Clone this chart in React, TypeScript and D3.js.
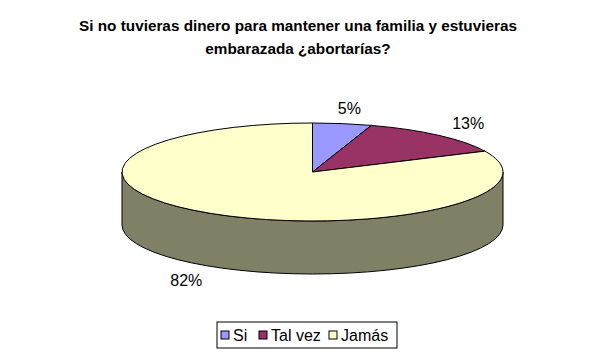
import React from "react";
import * as d3 from "d3";

const categories = ["Si", "Tal vez", "Jamás"];
const values = [5, 13, 82];
const colors = ["#9999FF", "#993366", "#FFFFCC"];
const sideColors = ["#4C4C80", "#4C1933", "#808066"];
const titleLines = ["Si no tuvieras dinero para mantener una familia y estuvieras", "embarazada ¿abortarías?"];

const W = 600, H = 358;
const cx = 312.5, cy = 172, rx = 190.5, ry = 49, depth = 53;
const FONT = "Arial, 'Liberation Sans', sans-serif";

export default function App() {
  const pie = d3.pie<number>().sort(null).value((d) => d)(values);
  const toT = d3.scaleLinear().domain([0, 2 * Math.PI]).range([0, 2 * Math.PI]);
  const pt = (t: number, dy = 0) => [cx + rx * Math.sin(t), cy - ry * Math.cos(t) + dy];

  const sides: JSX.Element[] = [];
  const tops: JSX.Element[] = [];
  const labels: JSX.Element[] = [];

  pie.forEach((s, i) => {
    const t0 = toT(s.startAngle), t1 = toT(s.endAngle);
    const a0 = Math.max(t0, Math.PI / 2), a1 = Math.min(t1, (3 * Math.PI) / 2);
    if (a1 > a0) {
      const [x0, y0] = pt(a0), [x1, y1] = pt(a1);
      const [x1b, y1b] = pt(a1, depth), [x0b, y0b] = pt(a0, depth);
      const large = a1 - a0 > Math.PI ? 1 : 0;
      const d = `M${x0},${y0} A${rx},${ry} 0 ${large} 1 ${x1},${y1} L${x1b},${y1b} A${rx},${ry} 0 ${large} 0 ${x0b},${y0b} Z`;
      sides.push(<path key={"s" + i} d={d} fill={sideColors[i]} stroke="#000" strokeWidth={1} />);
    }
    const [sx, sy] = pt(t0), [ex, ey] = pt(t1);
    const large = t1 - t0 > Math.PI ? 1 : 0;
    const d = `M${cx},${cy} L${sx},${sy} A${rx},${ry} 0 ${large} 1 ${ex},${ey} Z`;
    tops.push(<path key={"t" + i} d={d} fill={colors[i]} stroke="#000" strokeWidth={1} strokeLinejoin="round" />);
    const tm = (t0 + t1) / 2;
    const lx = cx + (rx + 45) * Math.sin(tm);
    const ly = cy - (ry + 16) * Math.cos(tm) + (Math.cos(tm) < 0 ? depth : 0) + 6;
    labels.push(
      <text key={"l" + i} x={lx} y={ly} textAnchor="middle" fontSize={16} fontFamily={FONT} fill="#000">
        {`${values[i]}%`}
      </text>
    );
  });

  const legendX = 217, legendY = 322;
  const itemX = [221, 259, 329];

  return (
    <svg width={W} height={H} style={{ position: "absolute", left: 0, top: 0 }}>
      <rect x={0} y={0} width={W} height={H} fill="#fff" />
      {titleLines.map((t, i) => (
        <text key={i} x={298} y={31 + i * 23} textAnchor="middle" fontSize={15.3} fontWeight="bold" fontFamily={FONT} fill="#000">
          {t}
        </text>
      ))}
      {sides}
      {tops}
      {labels}
      <rect x={legendX} y={legendY} width={180} height={26} fill="#fff" stroke="#000" strokeWidth={1} />
      {categories.map((c, i) => (
        <g key={c}>
          <rect x={itemX[i]} y={331} width={8} height={8} fill={colors[i]} stroke="#000" strokeWidth={1} />
          <text x={itemX[i] + 12} y={340.5} fontSize={16} fontFamily={FONT} fill="#000">
            {c}
          </text>
        </g>
      ))}
    </svg>
  );
}
